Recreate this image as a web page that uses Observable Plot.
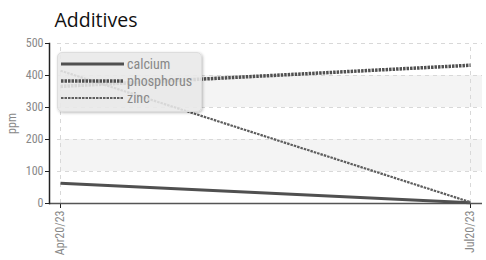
<!DOCTYPE html>
<html><head><meta charset="utf-8">
<script src="https://cdn.jsdelivr.net/npm/d3@7"></script>
<script src="https://cdn.jsdelivr.net/npm/@observablehq/plot@0.6"></script>
<style>
body{margin:0;background:#fff;}
#wrap{position:relative;width:486px;height:260px;}
#legend{position:absolute;left:57px;top:52px;width:143px;height:58px;background:rgba(232,232,232,0.88);border:1px solid #ddd;border-radius:5px;box-shadow:1px 1px 3px rgba(0,0,0,0.25);font-family:"Liberation Sans Narrow","Roboto Condensed",Roboto,sans-serif;font-size:14px;color:#888;}
.row{position:absolute;left:2px;height:16px;display:flex;align-items:center;}
.row svg{margin-right:3px;}
</style></head>
<body><div id="wrap"><div id="chart"></div><div id="legend"></div></div>
<script>
const dates = ["2023-04-20", "2023-07-20"];
const calcium = [63, 2];
const phosphorus = [366, 432];
const zinc = [415, 4];
const yTicks = [0, 100, 200, 300, 400, 500];
const bands = [[100, 200], [300, 400]];
const seriesNames = ["calcium", "phosphorus", "zinc"];
const styles = {
  calcium: {stroke: "#505050", strokeWidth: 3, dash: null},
  phosphorus: {stroke: "#505050", strokeWidth: 3.5, dash: "2.5,1"},
  zinc: {stroke: "#5e5e5e", strokeWidth: 2.2, dash: "2.5,1"}
};

const parse = d3.utcParse("%Y-%m-%d");
const D = dates.map(parse);
const vals = {calcium, phosphorus, zinc};
const data = seriesNames.flatMap(s => D.map((d, i) => ({series: s, date: d, value: vals[s][i]})));
const fmt = d3.utcFormat("%b%d/%y");
const font = '"Liberation Sans Narrow","Roboto Condensed",Roboto,sans-serif';

const chart = Plot.plot({
  width: 486, height: 260,
  marginLeft: 49, marginRight: 4, marginTop: 43, marginBottom: 57,
  style: {fontFamily: font, fontSize: "12px", color: "#888", background: "transparent"},
  x: {type: "utc", domain: D, insetLeft: 11, insetRight: 12},
  y: {domain: [0, 500]},
  marks: [
    Plot.rect(bands, {x1: () => D[0], x2: () => D[1], y1: d => d[0], y2: d => d[1], insetRight: -12, fill: "#f4f4f4"}),
    Plot.ruleY(yTicks.slice(1), {x1: () => D[0], x2: () => D[1], insetLeft: -3, insetRight: -12, stroke: "#d8d8d8", strokeDasharray: "4,4"}),
    Plot.ruleX(D, {y1: 0, y2: 500, stroke: "#d8d8d8", strokeDasharray: "4,4"}),
    Plot.axisY({ticks: yTicks, tickSize: 4, tickPadding: 2, stroke: "#222", fill: "#888", fontSize: 12, label: "ppm", labelAnchor: "center", labelArrow: "none", labelOffset: 42}),
    Plot.axisX({ticks: D, tickFormat: fmt, tickRotate: -90, tickSize: 5, tickPadding: 2, stroke: "#222", fill: "#888", fontSize: 12, label: null}),
    Plot.ruleY([0], {stroke: "#555", strokeWidth: 1.5}),
    Plot.frame({anchor: "left", stroke: "#222", strokeWidth: 1.5}),
    ...seriesNames.map(s => Plot.line(data.filter(d => d.series === s), {
      x: "date", y: "value", stroke: styles[s].stroke, strokeWidth: styles[s].strokeWidth,
      strokeLinecap: "butt",
      ...(styles[s].dash ? {strokeDasharray: styles[s].dash} : {})
    })),
    Plot.text(["Additives"], {frameAnchor: "top-left", dx: 5, dy: -30, text: d => d, fill: "#111", fontSize: 19.5, fontFamily: '"Open Sans", sans-serif', textAnchor: "start"})
  ]
});
document.getElementById("chart").appendChild(chart);

const legend = document.getElementById("legend");
seriesNames.forEach((s, i) => {
  const st = styles[s];
  const row = document.createElement("div");
  row.className = "row";
  row.style.top = (3 + i * 17) + "px";
  row.innerHTML = `<svg width="64" height="8"><line x1="1" x2="64" y1="4" y2="4" stroke="${st.stroke}" stroke-width="${st.strokeWidth}" ${st.dash ? `stroke-dasharray="${st.dash}"` : ""}/></svg><span>${s}</span>`;
  legend.appendChild(row);
});
</script></body></html>
